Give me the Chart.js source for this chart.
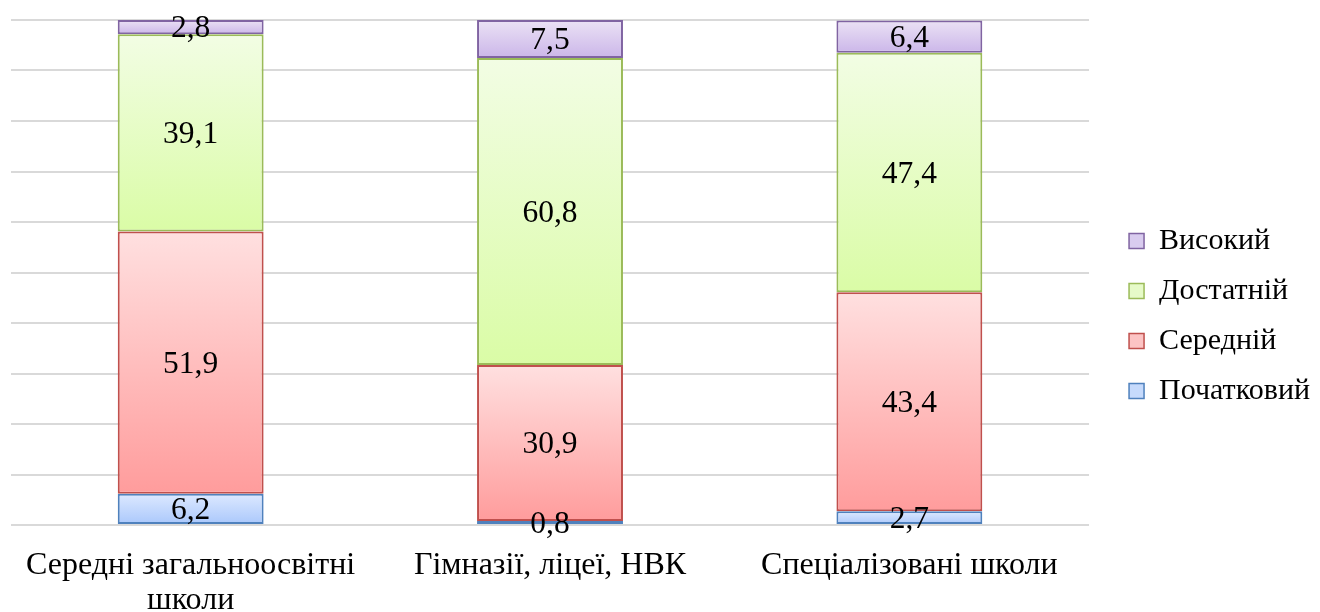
<!DOCTYPE html>
<html>
<head>
<meta charset="utf-8">
<script src="https://cdn.jsdelivr.net/npm/chart.js@4/dist/chart.umd.min.js"></script>
<style>
html,body{margin:0;padding:0;background:#fff;}
#wrap{width:1320px;height:612px;}
</style>
</head>
<body>
<div id="wrap"><canvas id="c" width="1320" height="612"></canvas></div>
<script>
const categories = [['Середні загальноосвітні', 'школи'], 'Гімназії, ліцеї, НВК', 'Спеціалізовані школи'];
const seriesNames = ['Початковий', 'Середній', 'Достатній', 'Високий'];
const initialLevel = [6.2, 0.8, 2.7];
const averageLevel = [51.9, 30.9, 43.4];
const sufficientLevel = [39.1, 60.8, 47.4];
const highLevel = [2.8, 7.5, 6.4];
const yTicks = [0, 10, 20, 30, 40, 50, 60, 70, 80, 90, 100];

const seriesValues = [initialLevel, averageLevel, sufficientLevel, highLevel];
const styles = [
  {top: '#dde9ff', bottom: '#a9c7fb', border: '#4f81bd', legend: '#c6dafc'},
  {top: '#ffe0e0', bottom: '#ff9c9c', border: '#c0504d', legend: '#fcc4c4'},
  {top: '#f2fde4', bottom: '#dafca6', border: '#9bbb59', legend: '#e6fac8'},
  {top: '#ebe2f5', bottom: '#cbb6e9', border: '#8064a2', legend: '#d9ccef'}
];
const SERIF = '"Liberation Serif", "Times New Roman", serif';

function gradientFill(ctx) {
  const chart = ctx.chart;
  const st = styles[ctx.datasetIndex];
  if (!chart.chartArea || !chart.scales.y || ctx.dataIndex === undefined) return st.legend;
  const ys = chart.scales.y;
  let start = 0;
  for (let d = 0; d < ctx.datasetIndex; d++) start += seriesValues[d][ctx.dataIndex];
  const end = start + seriesValues[ctx.datasetIndex][ctx.dataIndex];
  const top = ys.getPixelForValue(end);
  const bottom = ys.getPixelForValue(start);
  if (!isFinite(top) || !isFinite(bottom) || top === bottom) return st.legend;
  const g = chart.ctx.createLinearGradient(0, top, 0, bottom);
  g.addColorStop(0, st.top);
  g.addColorStop(1, st.bottom);
  return g;
}

const datasets = seriesNames.map((name, i) => ({
  label: name,
  data: seriesValues[i],
  backgroundColor: gradientFill,
  borderColor: styles[i].border,
  borderWidth: 2,
  borderSkipped: false,
  categoryPercentage: 1,
  barPercentage: 0.406
}));

const valueLabels = {
  id: 'valueLabels',
  afterDatasetsDraw(chart) {
    const ctx = chart.ctx;
    ctx.save();
    ctx.font = '31.5px ' + SERIF;
    ctx.fillStyle = '#000';
    ctx.textAlign = 'center';
    ctx.textBaseline = 'middle';
    chart.data.datasets.forEach((ds, di) => {
      const meta = chart.getDatasetMeta(di);
      meta.data.forEach((el, i) => {
        const v = ds.data[i];
        const y = (el.y + el.base) / 2;
        ctx.fillText(String(v).replace('.', ','), el.x, y + 2);
      });
    });
    ctx.restore();
  }
};

new Chart(document.getElementById('c'), {
  type: 'bar',
  data: { labels: categories, datasets: datasets },
  options: {
    responsive: false,
    animation: false,
    devicePixelRatio: 1,
    layout: { padding: { left: 11, top: 20, right: 0, bottom: 0 } },
    plugins: {
      legend: {
        position: 'right',
        reverse: true,
        labels: {
          boxWidth: 15,
          boxHeight: 15,
          padding: 20,
          color: '#000',
          font: { family: SERIF, size: 30 },
          generateLabels(chart) {
            return chart.data.datasets.map((ds, i) => ({
              text: ds.label,
              fillStyle: styles[i].legend,
              strokeStyle: styles[i].border,
              lineWidth: 1.5,
              datasetIndex: i,
              hidden: false
            }));
          }
        }
      },
      tooltip: { enabled: false }
    },
    scales: {
      x: {
        stacked: true,
        grid: { display: false, drawTicks: false },
        border: { display: false },
        afterFit(s) { s.height = 87; },
        ticks: {
          color: '#000',
          padding: 23,
          maxRotation: 0,
          autoSkip: false,
          font: { family: SERIF, size: 32, lineHeight: 1.1 }
        }
      },
      y: {
        stacked: true,
        min: 0,
        max: 100,
        afterBuildTicks(scale) { scale.ticks = yTicks.map(v => ({ value: v })); },
        ticks: { display: false },
        grid: { color: '#d9d9d9', lineWidth: 2, drawTicks: false },
        border: { display: false }
      },
      gap: {
        type: 'linear',
        position: 'right',
        display: true,
        grid: { display: false, drawTicks: false },
        border: { display: false },
        ticks: { display: false },
        afterFit(s) { s.width = 20; }
      }
    }
  },
  plugins: [valueLabels]
});
</script>
</body>
</html>
